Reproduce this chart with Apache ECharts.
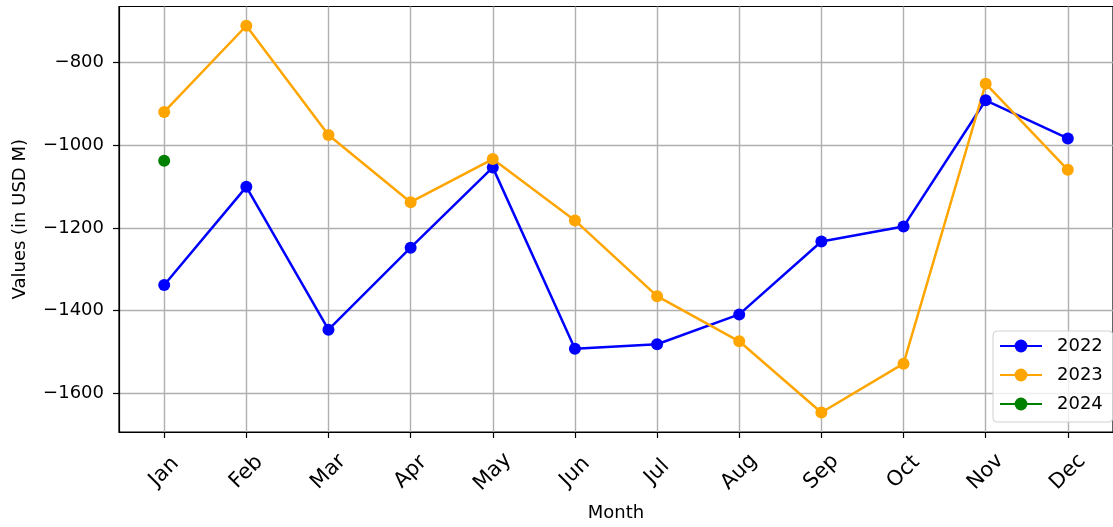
<!DOCTYPE html>
<html>
<head>
<meta charset="utf-8">
<script src="https://cdn.jsdelivr.net/npm/echarts@6/dist/echarts.min.js"></script>
<style>
html,body{margin:0;padding:0;background:#fff;}
#chart{width:1113px;height:527px;}
</style>
</head>
<body>
<div id="chart"></div>
<script>
const months = ['Jan','Feb','Mar','Apr','May','Jun','Jul','Aug','Sep','Oct','Nov','Dec'];
const values2022 = [-1338,-1101,-1446,-1248,-1054,-1492,-1481,-1409,-1233,-1197,-892,-984];
const values2023 = [-920,-712,-976,-1138,-1034,-1182,-1365,-1474,-1646,-1528,-852,-1060];
const values2024 = [-1038];
const yTicks = [-1600,-1400,-1200,-1000,-800];
const seriesNames = ['2022','2023','2024'];

const FONT = 'DejaVu Sans';
const monthIdx = months.map((m,i)=>i);
const toPairs = arr => arr.map((v,i)=>[i,v]);

const chart = echarts.init(document.getElementById('chart'), null, {renderer:'canvas'});
const mkSeries = (name, data, color) => ({
  name, type:'line', data: toPairs(data),
  symbol:'circle', symbolSize:12, showSymbol:true,
  lineStyle:{color, width:2.5}, itemStyle:{color},
  emphasis:{disabled:true}, animation:false, z:3
});
chart.setOption({
  animation:false,
  backgroundColor:'#fff',
  textStyle:{fontFamily:FONT},
  grid:{left:119, top:6.5, right:-9, bottom:92.7, show:true, borderColor:'#000', borderWidth:1.2, backgroundColor:'transparent'},
  xAxis:{
    type:'value', min:-0.55, max:11.55,
    name:'Month', nameLocation:'middle', nameGap:81,
    nameTextStyle:{fontFamily:FONT, fontSize:18, color:'#000', verticalAlign:'middle'},
    axisLine:{show:true, onZero:false, lineStyle:{color:'#000', width:1.2}},
    axisTick:{show:true, length:6, customValues:monthIdx, lineStyle:{color:'#000', width:1.2}},
    axisLabel:{show:true, customValues:monthIdx, rotate:45, align:'center', verticalAlign:'middle', margin:40,
      fontFamily:FONT, fontSize:21, color:'#000', formatter:v=>months[Math.round(v)]},
    splitLine:{show:true, lineStyle:{color:'#b0b0b0', width:1.4}}
  },
  yAxis:{
    type:'value', min:-1693, max:-665.5,
    name:'Values (in USD M)', nameLocation:'middle', nameGap:99,
    nameTextStyle:{fontFamily:FONT, fontSize:18, color:'#000', verticalAlign:'middle'},
    axisLine:{show:true, onZero:false, lineStyle:{color:'#000', width:1.2}},
    axisTick:{show:true, length:6, customValues:yTicks, lineStyle:{color:'#000', width:1.2}},
    axisLabel:{show:true, customValues:yTicks, margin:15, fontFamily:FONT, fontSize:18, color:'#000',
      formatter:v=>String(v).replace('-','\u2212')},
    splitLine:{show:true, lineStyle:{color:'#b0b0b0', width:1.4}}
  },
  legend:{
    show:true, orient:'vertical', left:993, top:331,
    data:seriesNames,
    itemWidth:42, itemHeight:16, itemGap:11,
    padding:[6,10,9,6],
    backgroundColor:'rgba(255,255,255,0.8)', borderColor:'#d0d0d0', borderWidth:1, borderRadius:4,
    textStyle:{fontFamily:FONT, fontSize:18, color:'#000', padding:[0,0,0,10]},
    selectedMode:false
  },
  series:[
    mkSeries('2022', values2022, '#0000ff'),
    mkSeries('2023', values2023, '#ffa500'),
    mkSeries('2024', values2024, '#008000')
  ]
});
</script>
</body>
</html>
